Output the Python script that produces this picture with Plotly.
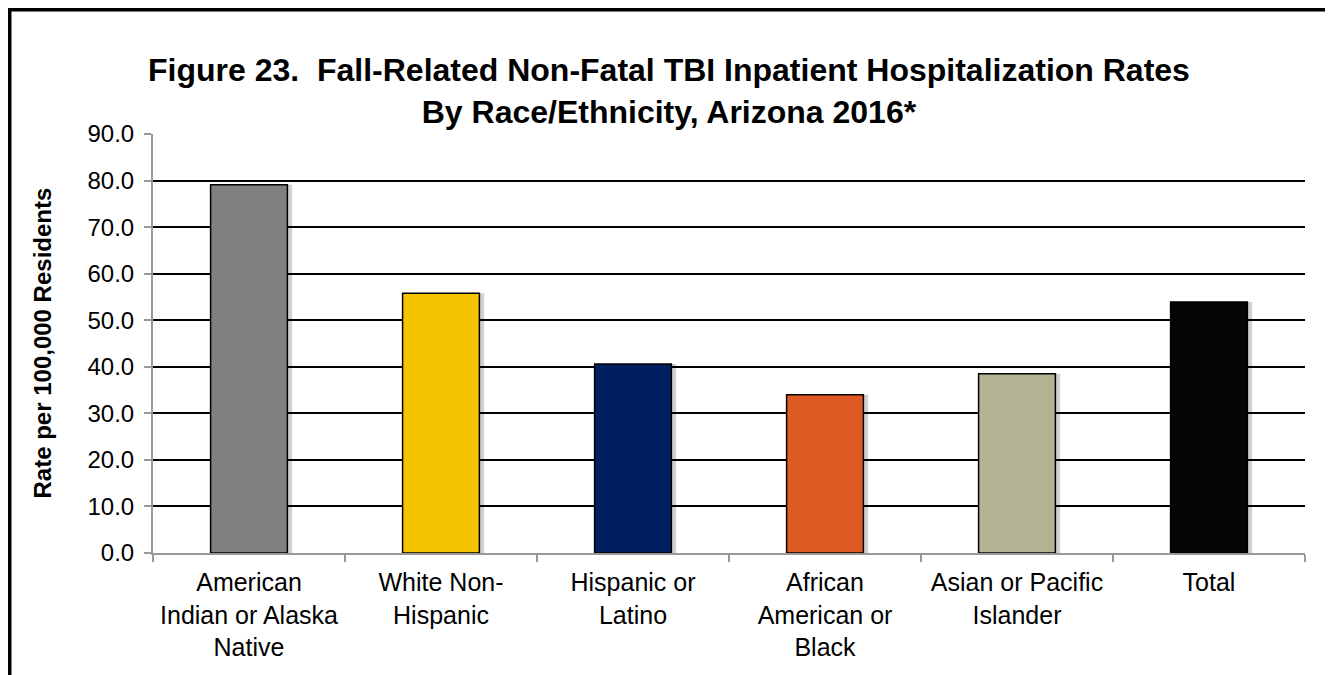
import plotly.graph_objects as go

categories = ["American<br>Indian or Alaska<br>Native", "White Non-<br>Hispanic", "Hispanic or<br>Latino",
              "African<br>American or<br>Black", "Asian or Pacific<br>Islander", "Total"]
rates = [79.1, 55.8, 40.6, 34.0, 38.5, 53.9]
colors = ["#7F7F7F", "#F3C300", "#001F5F", "#DF5A24", "#B3B394", "#050505"]
y_ticks = [0, 10, 20, 30, 40, 50, 60, 70, 80, 90]
title_text = ("Figure 23.  Fall-Related Non-Fatal TBI Inpatient Hospitalization Rates<br>"
              "By Race/Ethnicity, Arizona 2016*")

FONT = "Arial, Liberation Sans, sans-serif"

W, H = 1325, 667
ML, MR, MT, MB = 145, 28, 126, 122
PW, PH = W - ML - MR, H - MT - MB


def px_x(x):
    return (x - ML) / PW


def px_y(y_top):
    return (H - y_top - MB) / PH


fig = go.Figure()
# soft shadow
fig.add_trace(go.Bar(x=categories, y=rates, width=0.4, offset=-0.2 + 0.025,
                     marker=dict(color="rgba(0,0,0,0.18)", line=dict(width=0)),
                     hoverinfo="skip", showlegend=False))
fig.add_trace(go.Bar(x=categories, y=rates, width=0.4, offset=-0.2,
                     marker=dict(color=colors, line=dict(color="#000000", width=1.5)),
                     showlegend=False))

annotations = [
    dict(text="<b>" + title_text + "</b>", xref="paper", yref="paper",
         x=px_x(661), y=px_y(83), xanchor="center", yanchor="middle", showarrow=False,
         font=dict(family=FONT, size=32, color="#000000")),
    dict(text="<b>Rate per 100,000 Residents</b>", xref="paper", yref="paper",
         x=px_x(34), y=0.5, xanchor="center", yanchor="middle", showarrow=False,
         textangle=-90, font=dict(family=FONT, size=24, color="#000000")),
]

fig.update_layout(
    width=W, height=H,
    paper_bgcolor="white", plot_bgcolor="white",
    margin=dict(l=ML, r=MR, t=MT, b=MB, autoexpand=False),
    barmode="overlay",
    font=dict(family=FONT, size=24, color="#000000"),
    xaxis=dict(showline=True, linecolor="#999999", linewidth=2, ticks="outside",
               tickcolor="#999999", ticklen=7, tickwidth=2, tickson="boundaries",
               tickangle=0, automargin=False, ticklabelstandoff=6,
               tickfont=dict(family=FONT, size=25, color="#000000"),
               showgrid=False, range=[-0.5, 5.5]),
    yaxis=dict(range=[0, 90], tickvals=y_ticks, tickformat=".1f", automargin=False,
               showline=True, linecolor="#999999", linewidth=2, ticklabelstandoff=5,
               ticks="outside", tickcolor="#999999", ticklen=7, tickwidth=2,
               showgrid=True, gridcolor="#000000", gridwidth=2, zeroline=False,
               tickfont=dict(family=FONT, size=24, color="#000000")),
    annotations=annotations,
    shapes=[dict(type="rect", xref="paper", yref="paper",
                 x0=px_x(1.5), x1=px_x(W - 2.5), y0=-0.6, y1=px_y(1.5),
                 line=dict(color="#000000", width=4))],
)

fig.write_html("out.html")
